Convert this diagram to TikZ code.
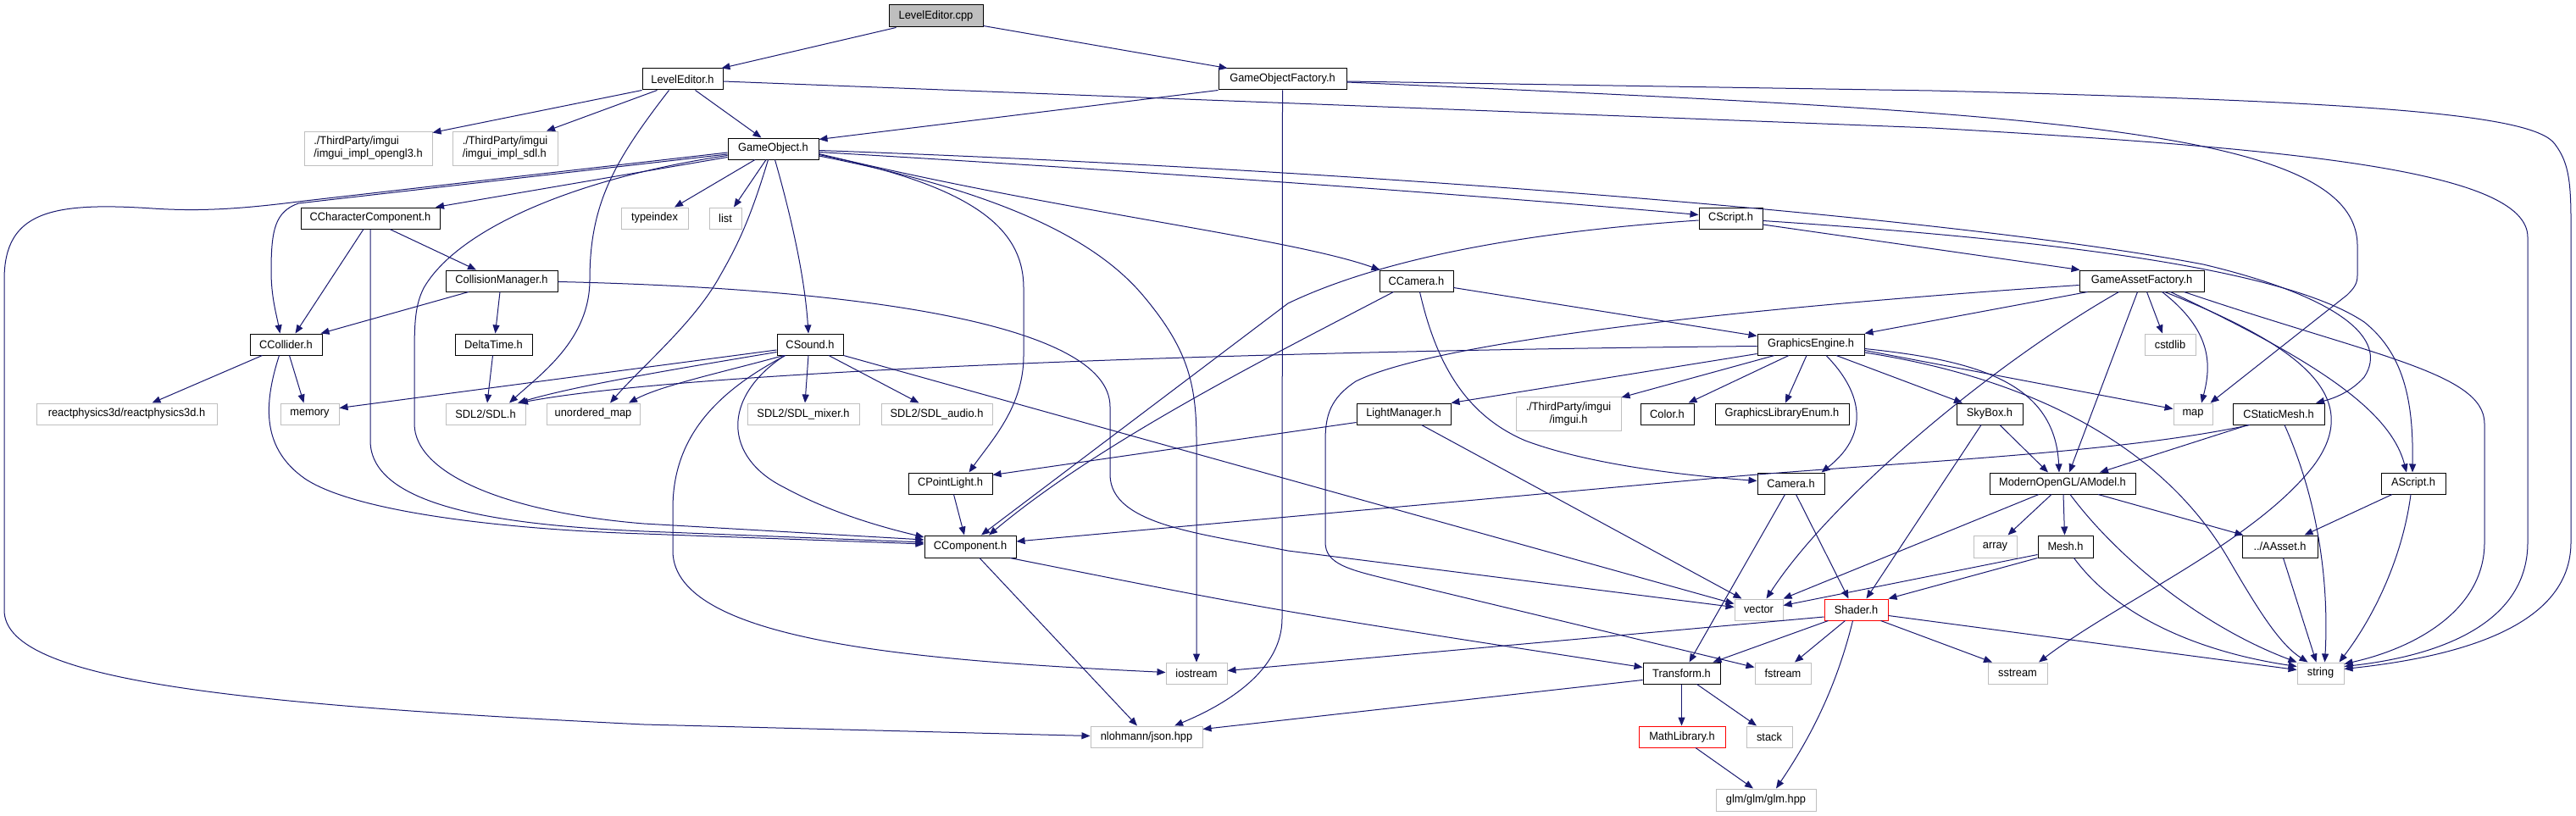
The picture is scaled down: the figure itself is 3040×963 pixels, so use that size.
\documentclass[tikz,border=0pt]{standalone}
\usepackage{fontspec}
\usetikzlibrary{arrows.meta}
\newfontfamily\labelfont{Liberation Sans}[FakeStretch=0.95]
\newcommand\ndfont{\labelfont\fontsize{13.5pt}{15pt}\selectfont}
\definecolor{edgeblue}{HTML}{191970}
\definecolor{sysgray}{HTML}{BFBFBF}
\definecolor{rootgray}{HTML}{BFBFBF}
\definecolor{redline}{HTML}{FF0000}
\tikzset{
  nd/.style={draw=black, line width=1pt, fill=white, inner sep=0pt, minimum height=25pt, font=\ndfont, text=black},
  sys/.style={nd, draw=sysgray},
  redbox/.style={nd, draw=redline},
  root/.style={nd, fill=rootgray},
  dep/.style={draw=edgeblue, line width=1pt, -{Triangle[length=10pt,width=8pt]}},
}
\begin{document}
\begin{tikzpicture}[x=1pt, y=-1pt]
\useasboundingbox (0,0) rectangle (3040,963);
\fill[white] (0,0) rectangle (3040,963);
% nodes
\node[root, minimum width=111pt, minimum height=26pt] (cpp) at (1104.5,19) {LevelEditor.cpp};
\node[nd, minimum width=95pt] (leh) at (805.5,93.5) {LevelEditor.h};
\node[nd, minimum width=151pt] (gof) at (1513.5,93.5) {GameObjectFactory.h};
\node[nd, minimum width=107pt] (go) at (912.5,175.5) {GameObject.h};
\node[sys, minimum width=151pt, minimum height=40pt, align=left] (opengl) at (434.5,175) {./ThirdParty/imgui\\/imgui\_impl\_opengl3.h};
\node[sys, minimum width=124pt, minimum height=40pt, align=left] (implsdl) at (596,175) {./ThirdParty/imgui\\/imgui\_impl\_sdl.h};
\node[nd, minimum width=164pt] (cc) at (437,257.5) {CCharacterComponent.h};
\node[sys, minimum width=79pt] (typeindex) at (772.5,257.5) {typeindex};
\node[sys, minimum width=38pt] (list) at (856,257.5) {list};
\node[nd, minimum width=75pt] (cscript) at (2042.5,257.5) {CScript.h};
\node[nd, minimum width=87pt] (ccamera) at (1671.5,331.5) {CCamera.h};
\node[nd, minimum width=147pt] (gaf) at (2527.5,331.5) {GameAssetFactory.h};
\node[nd, minimum width=132pt] (cm) at (592,331.5) {CollisionManager.h};
\node[nd, minimum width=85pt] (ccollider) at (337.5,406.5) {CCollider.h};
\node[nd, minimum width=91pt] (deltatime) at (582.5,406.5) {DeltaTime.h};
\node[nd, minimum width=78pt] (csound) at (956,406.5) {CSound.h};
\node[sys, minimum width=213pt] (react) at (149.5,488.5) {reactphysics3d/reactphysics3d.h};
\node[sys, minimum width=69pt] (memory) at (365.5,488.5) {memory};
\node[sys, minimum width=94pt] (sdl) at (573,488.5) {SDL2/SDL.h};
\node[sys, minimum width=110pt] (umap) at (700,488.5) {unordered\_map};
\node[sys, minimum width=132pt] (mixer) at (948,488.5) {SDL2/SDL\_mixer.h};
\node[sys, minimum width=131pt] (audio) at (1105.5,488.5) {SDL2/SDL\_audio.h};
\node[nd, minimum width=99pt] (cpl) at (1121.5,570.5) {CPointLight.h};
\node[nd, minimum width=108pt, minimum height=26pt] (ccomp) at (1145,645) {CComponent.h};
\node[nd, minimum width=126pt] (ge) at (2137,406.5) {GraphicsEngine.h};
\node[nd, minimum width=111pt] (lm) at (1656.5,488.5) {LightManager.h};
\node[sys, minimum width=124pt, minimum height=40pt, align=center] (imgui) at (1851,488.5) {./ThirdParty/imgui\\/imgui.h};
\node[nd, minimum width=63pt] (color) at (1967.5,488.5) {Color.h};
\node[nd, minimum width=158pt] (gle) at (2103,488.5) {GraphicsLibraryEnum.h};
\node[nd, minimum width=79pt] (camera) at (2113.5,570.5) {Camera.h};
\node[sys, minimum width=60pt] (cstdlib) at (2561,406.5) {cstdlib};
\node[sys, minimum width=46pt] (map) at (2588,488.5) {map};
\node[nd, minimum width=78pt] (skybox) at (2348,488.5) {SkyBox.h};
\node[nd, minimum width=108pt] (csm) at (2689,488.5) {CStaticMesh.h};
\node[nd, minimum width=172pt] (amodel) at (2434,570.5) {ModernOpenGL/AModel.h};
\node[nd, minimum width=76pt] (ascript) at (2848,570.5) {AScript.h};
\node[sys, minimum width=51pt, minimum height=26pt] (array) at (2354.5,645) {array};
\node[nd, minimum width=65pt, minimum height=26pt] (mesh) at (2437.5,645) {Mesh.h};
\node[nd, minimum width=89pt, minimum height=26pt] (aasset) at (2690.5,645) {../AAsset.h};
\node[sys, minimum width=57pt] (vector) at (2075.5,719.5) {vector};
\node[redbox, minimum width=75pt] (shader) at (2190.5,719.5) {Shader.h};
\node[sys, minimum width=72pt] (iostream) at (1412,794.5) {iostream};
\node[nd, minimum width=91pt] (transform) at (1984.5,794.5) {Transform.h};
\node[sys, minimum width=66pt] (fstream) at (2104,794.5) {fstream};
\node[sys, minimum width=70pt] (sstream) at (2381,794.5) {sstream};
\node[sys, minimum width=55pt] (string) at (2738.5,794.5) {string};
\node[sys, minimum width=132pt] (json) at (1353,869.5) {nlohmann/json.hpp};
\node[redbox, minimum width=102pt] (mathlib) at (1985,869.5) {MathLibrary.h};
\node[sys, minimum width=54pt] (stack) at (2088,869.5) {stack};
\node[sys, minimum width=118pt, minimum height=26pt] (glm) at (2084,944) {glm/glm/glm.hpp};
% edges: LevelEditor.cpp
\draw[dep] ([xshift=-47pt]cpp.south) -- ([xshift=46pt]leh.north);
\draw[dep] ([yshift=2pt]cpp.south east) -- ([xshift=-65pt]gof.north);
% LevelEditor.h
\draw[dep] (leh.south west) -- ([yshift=-2pt]opengl.north east);
\draw[dep] ([xshift=-30pt]leh.south) -- ([xshift=49pt]implsdl.north);
\draw[dep] ([xshift=15pt]leh.south) -- ([xshift=-14pt]go.north);
\draw[dep] ([xshift=-16pt]leh.south) .. controls (725,190) and (696,240) .. (696,330) .. controls (696,400) and (640,440) .. ([xshift=28pt]sdl.north);
\draw[dep] ([yshift=-2.5pt]leh.east) -- (2280,151) .. controls (2700,175) and (2983,200) .. (2983,280) -- (2983,640) .. controls (2983,740) and (2870,775) .. ([yshift=8pt]string.east);
% GameObjectFactory.h
\draw[dep] ([yshift=-2.5pt]gof.east) -- (2280,107) .. controls (2800,120) and (2990,135) .. (3015,170) .. controls (3030,190) and (3034,210) .. (3034,260) -- (3034,640) .. controls (3034,740) and (2900,775) .. ([yshift=5pt]string.east);
\draw[dep] ([yshift=-3.5pt]gof.east) .. controls (2400,133) and (2782,150) .. (2782,290) -- (2782,325) .. controls (2782,335) and (2778,340) .. (2770,348) -- ([xshift=-3pt]map.north east);
\draw[dep] (gof.south west) -- ([yshift=-2pt]go.north east);
\draw[dep] (gof.south) -- (1513,730) .. controls (1513,790) and (1450,830) .. ([xshift=33pt]json.north);
% GameObject.h
\draw[dep] ([yshift=-4.5pt]go.west) -- (360,237) .. controls (290,246) and (240,250) .. (180,246) .. controls (60,238) and (5,250) .. (5,330) -- (5,720) .. controls (5,800) and (250,830) .. (760,855) -- ([yshift=1pt]json.west);
\draw[dep] ([yshift=-6.5pt]go.west) -- (352,240) .. controls (325,250) and (320,270) .. (320,320) .. controls (320,350) and (326,370) .. ([xshift=-7pt]ccollider.north);
\draw[dep] ([yshift=-10pt]go.west) -- ([xshift=77pt]cc.north);
\draw[dep] ([yshift=-8pt]go.west) .. controls (680,210) and (540,270) .. (500,340) .. controls (490,360) and (489,380) .. (489,420) -- (489,500) .. controls (489,560) and (600,605) .. (760,618) -- ([yshift=8pt]ccomp.west);
\draw[dep] ([xshift=-21.5pt]go.south) -- ([xshift=23.5pt]typeindex.north);
\draw[dep] ([xshift=-8.5pt]go.south) -- ([xshift=10pt]list.north);
\draw[dep] ([xshift=-6pt]go.south) .. controls (885,260) and (870,290) .. (850,325) .. controls (820,380) and (760,430) .. ([xshift=20pt]umap.north);
\draw[dep] ([xshift=2pt]go.south) .. controls (935,260) and (950,330) .. ([xshift=-2pt]csound.north);
\draw[dep] ([yshift=-7pt]go.east) .. controls (1150,220) and (1208,270) .. (1208,340) -- (1208,420) .. controls (1208,480) and (1170,520) .. ([xshift=22pt]cpl.north);
\draw[dep] ([yshift=-8.5pt]go.east) .. controls (1200,230) and (1300,290) .. (1350,350) .. controls (1400,410) and (1412,450) .. (1412,520) -- (iostream.north);
\draw[dep] ([yshift=-6pt]go.east) .. controls (1250,250) and (1520,280) .. ([xshift=1pt]ccamera.north west);
\draw[dep] ([yshift=-4pt]go.east) .. controls (1400,205) and (1800,235) .. ([yshift=4pt]cscript.west);
\draw[dep] ([yshift=-2pt]go.east) .. controls (1600,200) and (2300,255) .. (2600,312) .. controls (2760,350) and (2820,400) .. (2790,445) .. controls (2775,462) and (2755,470) .. ([xshift=44pt]csm.north);
% CScript.h
\draw[dep] ([yshift=-7.5pt]cscript.east) -- ([xshift=1pt]gaf.north west);
\draw[dep] ([yshift=-3pt]cscript.east) .. controls (2450,285) and (2700,320) .. (2790,380) .. controls (2840,420) and (2848,480) .. ([xshift=-1pt]ascript.north);
\draw[dep] ([yshift=-2.5pt]cscript.west) .. controls (1780,275) and (1620,310) .. (1520,358) -- ([xshift=13pt]ccomp.north);
% CCamera.h
\draw[dep] ([yshift=-8pt]ccamera.east) -- ([yshift=10pt]ge.west);
\draw[dep] ([xshift=-27pt]ccamera.south) .. controls (1500,420) and (1300,520) .. ([xshift=22pt]ccomp.north);
\draw[dep] ([xshift=4pt]ccamera.south) .. controls (1695,430) and (1730,490) .. (1800,520) .. controls (1880,550) and (2000,562) .. ([yshift=3pt]camera.west);
% GraphicsEngine.h
\draw[dep] ([yshift=-11pt]ge.west) -- (lm.north east);
\draw[dep] ([xshift=-43pt]ge.south) -- ([yshift=-1pt]imgui.north east);
\draw[dep] ([xshift=-26pt]ge.south) -- ([xshift=25pt]color.north);
\draw[dep] ([xshift=-5pt]ge.south) -- ([xshift=4pt]gle.north);
\draw[dep] ([xshift=18pt]ge.south) .. controls (2195,460) and (2210,510) .. ([xshift=36pt]camera.north);
\draw[dep] ([xshift=30pt]ge.south) -- ([xshift=-32pt]skybox.north);
\draw[dep] ([yshift=-7pt]ge.east) -- ([yshift=6pt]map.west);
\draw[dep] ([yshift=-5pt]ge.east) .. controls (2330,425) and (2425,450) .. ([xshift=-4pt]amodel.north);
\draw[dep] ([yshift=-9.5pt]ge.east) .. controls (2420,450) and (2560,540) .. (2630,660) .. controls (2665,720) and (2690,760) .. ([xshift=-15pt]string.north);
\draw[dep] ([yshift=-2pt]ge.west) .. controls (1400,415) and (800,440) .. ([xshift=40pt]sdl.north);
% GameAssetFactory.h
\draw[dep] ([xshift=-64pt]gaf.south) -- (ge.north east);
\draw[dep] ([yshift=-5pt]gaf.west) .. controls (2100,360) and (1700,400) .. (1600,450) .. controls (1570,470) and (1564,490) .. (1564,520) -- (1564,640) .. controls (1564,665) and (1590,672) .. (1640,684) -- ([yshift=7pt]fstream.west);
\draw[dep] ([xshift=-27pt]gaf.south) .. controls (2350,430) and (2160,590) .. ([xshift=9pt]vector.north);
\draw[dep] ([xshift=-5pt]gaf.south) -- ([xshift=8pt]amodel.north);
\draw[dep] ([xshift=6pt]gaf.south) -- ([xshift=-9pt]cstdlib.north);
\draw[dep] ([xshift=24pt]gaf.south) .. controls (2610,390) and (2610,430) .. ([xshift=10pt]map.north);
\draw[dep] ([xshift=27pt]gaf.south) .. controls (2720,410) and (2790,470) .. (2730,550) .. controls (2660,640) and (2500,710) .. ([xshift=25pt]sstream.north);
\draw[dep] ([xshift=34pt]gaf.south) .. controls (2720,420) and (2820,480) .. ([xshift=-8pt]ascript.north);
\draw[dep] ([xshift=50pt]gaf.south) .. controls (2800,420) and (2932,440) .. (2932,500) -- (2932,640) .. controls (2932,720) and (2850,765) .. ([yshift=11pt]string.east);
% CStaticMesh.h
\draw[dep] ([xshift=-36pt]csm.south) -- ([xshift=44pt]amodel.north);
\draw[dep] ([xshift=-34pt]csm.south) .. controls (2500,535) and (2250,545) .. (2050,562) -- ([yshift=6pt]ccomp.east);
\draw[dep] ([xshift=7pt]csm.south) .. controls (2740,600) and (2748,700) .. ([xshift=5pt]string.north);
% SkyBox.h
\draw[dep] ([xshift=12pt]skybox.south) -- ([xshift=-17pt]amodel.north);
\draw[dep] ([xshift=-10pt]skybox.south) -- ([xshift=12pt]shader.north);
% ModernOpenGL/AModel.h
\draw[dep] ([xshift=-13pt]amodel.south) -- ([xshift=15pt]array.north);
\draw[dep] ([xshift=1pt]amodel.south) -- ([xshift=-1pt]mesh.north);
\draw[dep] ([xshift=42pt]amodel.south) -- ([xshift=-43pt]aasset.north);
\draw[dep] ([xshift=-28pt]amodel.south) -- (vector.north east);
\draw[dep] ([xshift=9pt]amodel.south) .. controls (2500,660) and (2600,740) .. (string.north west);
% Mesh.h
\draw[dep] ([yshift=4pt]mesh.south west) -- ([yshift=5pt]vector.east);
\draw[dep] (mesh.south west) -- (shader.north east);
\draw[dep] ([xshift=10pt]mesh.south) .. controls (2500,730) and (2600,770) .. ([yshift=8pt]string.west);
% AAsset, AScript
\draw[dep] ([xshift=4pt]aasset.south) -- ([xshift=-5pt]string.north);
\draw[dep] ([xshift=-25pt]ascript.south) -- ([xshift=29pt]aasset.north);
\draw[dep] ([xshift=-3pt]ascript.south) .. controls (2835,660) and (2800,730) .. ([xshift=22pt]string.north);
% Camera.h
\draw[dep] ([xshift=-7pt]camera.south) -- ([xshift=9pt]transform.north);
\draw[dep] ([xshift=6pt]camera.south) -- ([xshift=-9pt]shader.north);
% Shader.h
\draw[dep] ([yshift=-8.5pt]shader.west) -- ([yshift=3pt]iostream.east);
\draw[dep] ([xshift=-33pt]shader.south) -- ([xshift=37pt]transform.north);
\draw[dep] ([xshift=-13pt]shader.south) -- ([xshift=14pt]fstream.north);
\draw[dep] ([xshift=29pt]shader.south) -- ([xshift=-30pt]sstream.north);
\draw[dep] ([yshift=-7pt]shader.east) -- ([yshift=4pt]string.west);
\draw[dep] ([xshift=-4pt]shader.south) .. controls (2165,820) and (2130,880) .. ([xshift=12pt]glm.north);
% Transform.h, MathLibrary.h
\draw[dep] (transform.south) -- ([xshift=-0.5pt]mathlib.north);
\draw[dep] ([xshift=18pt]transform.south) -- ([xshift=-15pt]stack.north);
\draw[dep] ([yshift=-8pt]transform.west) -- ([yshift=9pt]json.east);
\draw[dep] ([xshift=16pt]mathlib.south) -- ([xshift=-15pt]glm.north);
% CComponent.h, CPointLight.h
\draw[dep] ([xshift=47pt]ccomp.south) .. controls (1500,720) .. ([yshift=7pt]transform.west);
\draw[dep] ([xshift=11pt]ccomp.south) -- ([xshift=-11pt]json.north);
\draw[dep] ([xshift=4pt]cpl.south) -- ([xshift=-7pt]ccomp.north);
% LightManager.h
\draw[dep] ([yshift=-10pt]lm.west) -- ([yshift=10pt]cpl.east);
\draw[dep] ([xshift=21pt]lm.south) -- ([xshift=-20pt]vector.north);
% CSound.h
\draw[dep] (csound.south east) -- ([yshift=7pt]vector.west);
\draw[dep] ([yshift=-6.5pt]csound.west) -- ([yshift=7pt]memory.east);
\draw[dep] ([yshift=-9pt]csound.west) .. controls (800,435) and (680,455) .. ([xshift=38pt]sdl.north);
\draw[dep] ([xshift=-31pt]csound.south) .. controls (850,440) and (780,455) .. ([xshift=42pt]umap.north);
\draw[dep] ([xshift=-2pt]csound.south) -- ([xshift=2pt]mixer.north);
\draw[dep] ([xshift=22pt]csound.south) -- ([xshift=-21pt]audio.north);
\draw[dep] ([xshift=-30pt]csound.south) .. controls (850,470) and (855,540) .. (925,575) .. controls (980,605) and (1040,622) .. ([yshift=11pt]ccomp.west);
\draw[dep] ([xshift=-29pt]csound.south) .. controls (840,465) and (794,520) .. (794,600) -- (794,650) .. controls (794,760) and (1100,780) .. ([yshift=1pt]iostream.west);
% CCharacterComponent.h
\draw[dep] ([xshift=-8pt]cc.south) -- ([xshift=11pt]ccollider.north);
\draw[dep] (cc.south) -- (437,520) .. controls (437,600) and (600,620) .. (760,627) -- ([yshift=5pt]ccomp.west);
\draw[dep] ([xshift=23pt]cc.south) -- ([xshift=-30pt]cm.north);
% CollisionManager.h
\draw[dep] ([xshift=-39pt]cm.south) -- ([xshift=-2pt]ccollider.north east);
\draw[dep] ([xshift=-2pt]cm.south) -- ([xshift=2pt]deltatime.north);
\draw[dep] ([yshift=-1pt]cm.east) .. controls (1000,340) and (1310,380) .. (1310,480) -- (1310,560) .. controls (1310,620) and (1420,630) .. (1520,650) -- ([yshift=3pt]vector.west);
% DeltaTime.h
\draw[dep] ([xshift=-1pt]deltatime.south) -- ([xshift=2pt]sdl.north);
% CCollider.h
\draw[dep] ([xshift=-28pt]ccollider.south) -- ([xshift=30pt]react.north);
\draw[dep] ([xshift=4pt]ccollider.south) -- ([xshift=-7pt]memory.north);
\draw[dep] ([xshift=-8pt]ccollider.south) .. controls (310,480) and (310,530) .. (360,565) .. controls (420,605) and (600,625) .. (760,630) -- ([yshift=3pt]ccomp.west);
\end{tikzpicture}
\end{document}
